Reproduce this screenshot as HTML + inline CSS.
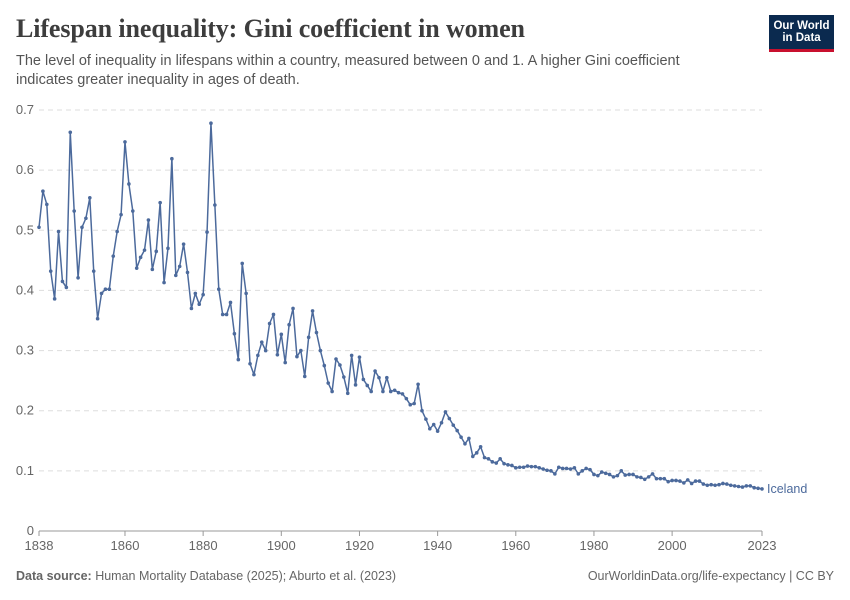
<!DOCTYPE html>
<html><head><meta charset="utf-8"><style>
body{margin:0;background:#fff;font-family:"Liberation Sans",sans-serif}
#wrap{position:relative;width:850px;height:600px;overflow:hidden}
h1{position:absolute;left:16px;top:14px;margin:0;font-family:"Liberation Serif",serif;font-weight:bold;font-size:26px;color:#3d3d3d;letter-spacing:-0.1px}
.sub{position:absolute;left:16px;top:52px;width:700px;font-size:14.5px;line-height:19px;color:#555}
.logo{position:absolute;left:769px;top:15px;width:65px;height:37px;background:#0b2a4f;color:#fff;font-size:11.5px;line-height:12px;text-align:center;font-weight:bold;padding-top:5px;box-sizing:border-box;border-bottom:3px solid #c8102e}
.foot{position:absolute;top:569px;font-size:12.5px;color:#666}
</style></head><body><div id="wrap">
<h1>Lifespan inequality: Gini coefficient in women</h1>
<div class="sub">The level of inequality in lifespans within a country, measured between 0 and 1. A higher Gini coefficient indicates greater inequality in ages of death.</div>
<div class="logo">Our World<br>in Data</div>
<svg id="plot" width="850" height="600" style="position:absolute;left:0;top:0"></svg>
<div class="foot" style="left:16px"><b>Data source:</b> Human Mortality Database (2025); Aburto et al. (2023)</div>
<div class="foot" style="right:16px">OurWorldinData.org/life-expectancy | CC BY</div>
</div>
<script>
const startYear=1838;
const values=[0.505,0.565,0.543,0.432,0.386,0.498,0.415,0.405,0.663,0.532,0.421,0.505,0.52,0.554,0.432,0.353,0.395,0.402,0.402,0.457,0.498,0.526,0.647,0.577,0.532,0.437,0.455,0.467,0.517,0.435,0.465,0.546,0.413,0.47,0.619,0.425,0.44,0.477,0.43,0.37,0.395,0.377,0.393,0.497,0.678,0.542,0.402,0.36,0.36,0.38,0.328,0.285,0.445,0.395,0.278,0.26,0.292,0.314,0.3,0.345,0.36,0.293,0.327,0.28,0.343,0.37,0.29,0.3,0.257,0.322,0.366,0.33,0.3,0.275,0.246,0.232,0.286,0.276,0.256,0.229,0.292,0.243,0.289,0.252,0.242,0.232,0.266,0.255,0.232,0.255,0.232,0.234,0.23,0.228,0.22,0.21,0.212,0.244,0.2,0.186,0.17,0.177,0.166,0.18,0.198,0.187,0.176,0.167,0.156,0.145,0.154,0.124,0.13,0.14,0.122,0.12,0.115,0.113,0.12,0.112,0.11,0.109,0.105,0.106,0.106,0.108,0.107,0.107,0.105,0.103,0.101,0.1,0.095,0.106,0.104,0.104,0.103,0.105,0.095,0.1,0.104,0.102,0.094,0.092,0.098,0.096,0.094,0.09,0.092,0.1,0.093,0.094,0.094,0.09,0.089,0.086,0.09,0.095,0.087,0.087,0.087,0.082,0.084,0.084,0.083,0.08,0.085,0.079,0.083,0.083,0.078,0.076,0.077,0.076,0.077,0.079,0.078,0.076,0.075,0.074,0.073,0.075,0.075,0.072,0.071,0.07];
const yTicks=[0,0.1,0.2,0.3,0.4,0.5,0.6,0.7];
const xTicks=[1838,1860,1880,1900,1920,1940,1960,1980,2000,2023];
const NS="http://www.w3.org/2000/svg",svg=document.getElementById('plot');
const x=yr=>39+(yr-1838)*(762-39)/(2023-1838);
const y=v=>531-v*(531-110)/0.7;
function mk(t,a){const e=document.createElementNS(NS,t);for(const k in a)e.setAttribute(k,a[k]);svg.appendChild(e);return e;}
yTicks.forEach(v=>{
 const l=mk('line',{x1:39,x2:762,y1:y(v),y2:y(v),stroke:v===0?'#999':'#ddd','stroke-dasharray':v===0?'':'5,4'});
 
 const t=mk('text',{x:34,y:y(v)+4,'text-anchor':'end','font-size':13,fill:'#666'});t.textContent=String(v);
 
});
xTicks.forEach(v=>{
 const l=mk('line',{x1:x(v),x2:x(v),y1:531,y2:536,stroke:'#999'});
 
 const t=mk('text',{x:x(v),y:550,'text-anchor':'middle','font-size':13,fill:'#666'});t.textContent=String(v);
 
});
const pts=values.map((v,i)=>[x(startYear+i),y(v)]);
const p=mk('polyline',{points:pts.map(q=>q.join(',')).join(' '),fill:'none',stroke:'#4c6a9c','stroke-width':1.5,'stroke-linejoin':'round'});

pts.forEach(q=>{const c=mk('circle',{cx:q[0],cy:q[1],r:1.8,fill:'#4c6a9c'});
 });
const last=pts[pts.length-1];
const lab=mk('text',{x:last[0]+5,y:last[1]+4,'font-size':12.5,fill:'#4c6a9c'});lab.textContent='Iceland';

</script></body></html>
